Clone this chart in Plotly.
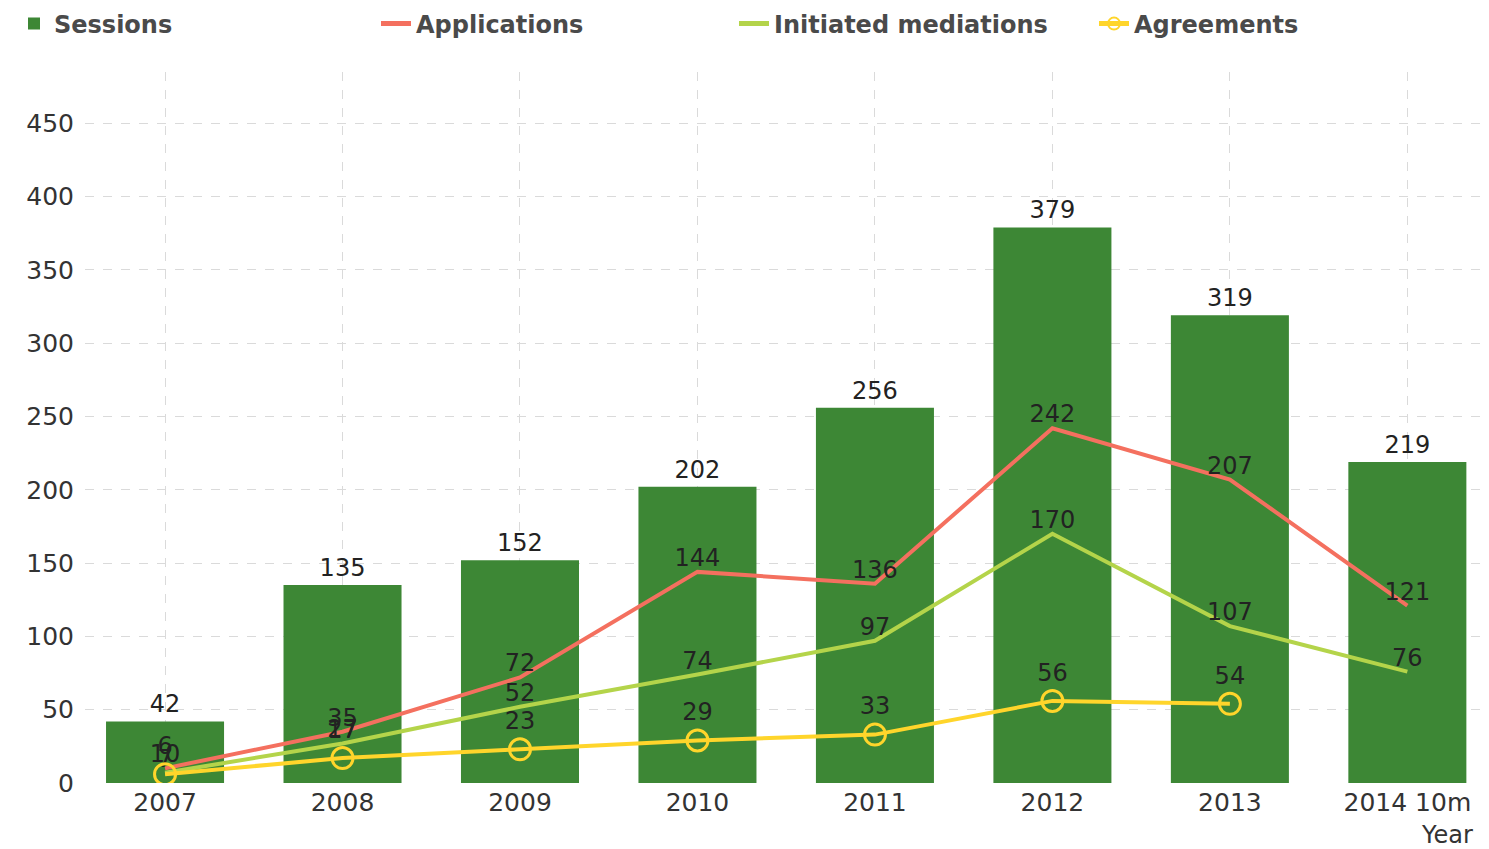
import plotly.graph_objects as go

years = ["2007", "2008", "2009", "2010", "2011", "2012", "2013", "2014 10m"]
sessions = [42, 135, 152, 202, 256, 379, 319, 219]
applications = [10, 35, 72, 144, 136, 242, 207, 121]
initiated = [7, 27, 52, 74, 97, 170, 107, 76]
agreements = [6, 17, 23, 29, 33, 56, 54, None]
y_ticks = [0, 50, 100, 150, 200, 250, 300, 350, 400, 450]

# The page body has an 8px margin, so the figure is sized to fill the window exactly.
W, H = 1481, 841
xpos = list(range(len(years)))
font_family = "DejaVu Sans, Verdana, sans-serif"
label_font = dict(size=24, color="#222", family=font_family)

fig = go.Figure()
fig.add_trace(go.Bar(
    x=xpos, y=sessions, name="Sessions", width=0.665, legend="legend",
    marker=dict(color="#3D8735", line=dict(width=0)),
    text=[str(v) for v in sessions], textposition="outside",
    textfont=label_font, cliponaxis=False,
))
fig.add_trace(go.Scatter(
    x=xpos, y=applications, name="Applications", mode="lines+text", legend="legend2",
    line=dict(color="#F4705F", width=4),
    text=[str(v) for v in applications], textposition="top center",
    textfont=label_font,
))
fig.add_trace(go.Scatter(
    x=xpos, y=initiated, name="Initiated mediations", mode="lines+text", legend="legend3",
    line=dict(color="#B4D44A", width=4),
    text=[str(v) for v in initiated], textposition="top center",
    textfont=label_font,
))
fig.add_trace(go.Scatter(
    x=xpos, y=agreements, name="Agreements", mode="lines+markers+text", legend="legend4",
    line=dict(color="#FFD52B", width=4),
    marker=dict(symbol="circle-open", size=21, color="#FFD52B", line=dict(width=3, color="#FFD52B")),
    text=["" if v is None else str(v) for v in agreements], textposition="top center",
    textfont=label_font,
))

legend_font = dict(size=24, color="#4A4A4A", family=font_family, weight="bold")
def make_legend(xpix):
    return dict(
        orientation="h", x=xpix / W, y=1 - 16 / H, xref="container", yref="container",
        xanchor="left", yanchor="middle", font=legend_font,
        bgcolor="rgba(0,0,0,0)", itemsizing="constant",
    )

fig.update_layout(
    width=W, height=H,
    margin=dict(l=77, r=0, t=64, b=66, autoexpand=False),
    paper_bgcolor="white", plot_bgcolor="white",
    font=dict(family=font_family, color="#333"),
    showlegend=True,
    legend=make_legend(6),
    legend2=make_legend(368),
    legend3=make_legend(726),
    legend4=make_legend(1086),
    xaxis=dict(
        range=[-0.451, 7.46], tickmode="array", tickvals=xpos, ticktext=years,
        showgrid=True, gridcolor="#DADADA", griddash="dash", gridwidth=1,
        zeroline=False, showline=False, ticks="", automargin=False,
        tickfont=dict(size=25, color="#333"), ticklabelstandoff=2,
    ),
    yaxis=dict(
        range=[0, 485], tickmode="array", tickvals=y_ticks,
        showgrid=True, gridcolor="#DADADA", griddash="dash", gridwidth=1,
        zeroline=False, showline=False, ticks="", automargin=False,
        tickfont=dict(size=25, color="#333"), ticklabelstandoff=10,
    ),
    annotations=[dict(
        text="Year", xref="paper", yref="paper", x=1.0, y=0,
        xanchor="right", yanchor="top", showarrow=False,
        xshift=-14, yshift=-36, font=dict(size=24, color="#333"),
    )],
)

fig.write_html("out.html")
